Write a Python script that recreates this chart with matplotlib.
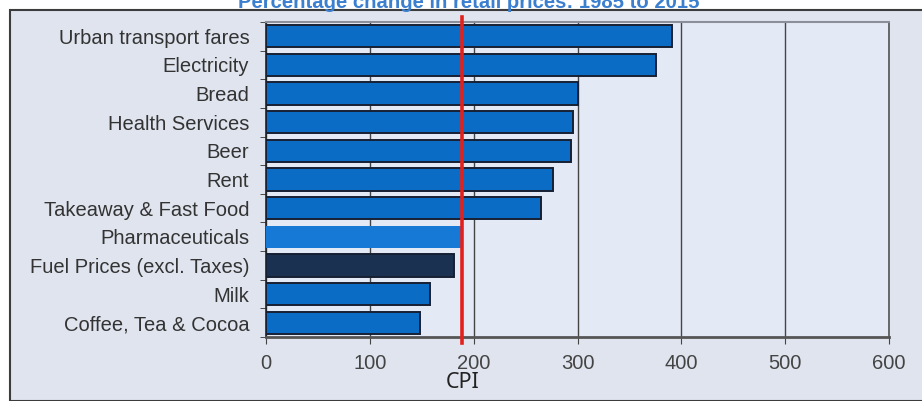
import matplotlib
import matplotlib.pyplot as plt
from matplotlib.patches import Rectangle

matplotlib.rcParams["font.family"] = ["Liberation Sans", "DejaVu Sans"]

categories = [
    "Urban transport fares",
    "Electricity",
    "Bread",
    "Health Services",
    "Beer",
    "Rent",
    "Takeaway & Fast Food",
    "Pharmaceuticals",
    "Fuel Prices (excl. Taxes)",
    "Milk",
    "Coffee, Tea & Cocoa",
]
values = [391, 376, 300, 296, 294, 276, 265, 188, 181, 158, 148]
cpi_value = 189
x_ticks = [0, 100, 200, 300, 400, 500, 600]
title = "Percentage change in retail prices: 1985 to 2015"

bar_colors = ["#0b6cc6"] * len(categories)
bar_colors[7] = "#1679d6"
bar_colors[8] = "#1b3152"
edge_widths = [1.4] * len(categories)
edge_widths[7] = 0

fig = plt.figure(figsize=(9.22, 4.01), dpi=100)
fig.patch.set_facecolor("white")

# outer panel behind the axes
panel = Rectangle((10 / 922, 0.0), 1.0, 1 - 10 / 401, transform=fig.transFigure,
                  facecolor="#dfe4ee", edgecolor="#3c3c3c", linewidth=1.5, zorder=-5)
fig.patches.append(panel)

ax = fig.add_axes([266 / 922, 1 - 337 / 401, (889 - 266) / 922, (337 - 22) / 401])
ax.set_zorder(2)
ax.set_facecolor("#e3e9f5")

pos = list(range(len(categories)))
ax.barh(pos, values, height=0.78, color=bar_colors, edgecolor="#172033",
        linewidth=edge_widths, zorder=3)

ax.axvline(cpi_value, ymin=-0.02, ymax=1.015, color="#e3211c", linewidth=2.6,
           zorder=4, clip_on=False)
ax.text(cpi_value, -0.146, "CPI", transform=ax.get_xaxis_transform(),
        ha="center", va="center", fontsize=15.5, color="#222222",
        family=["Noto Sans", "DejaVu Sans"])

ax.set_xlim(0, 600)
ax.set_ylim(len(categories) - 0.5, -0.5)
ax.set_xticks(x_ticks)
ax.set_yticks(pos)
ax.set_yticklabels(categories)
ax.set_yticks([p + 0.5 for p in pos[:-1]] + [-0.5, len(categories) - 0.5], minor=True)
ax.tick_params(axis="y", which="major", length=0, pad=12, labelsize=14.5, labelcolor="#333333")
ax.tick_params(axis="y", which="minor", length=4, color="#333333")
ax.tick_params(axis="x", length=5, color="#444444", pad=7, labelsize=14.5, labelcolor="#444444")

ax.grid(axis="x", color="#444444", linewidth=1.0, zorder=1)
ax.set_axisbelow(True)

ax.spines["left"].set_color("#222222")
ax.spines["left"].set_linewidth(1.2)
ax.spines["bottom"].set_color("#555555")
ax.spines["bottom"].set_linewidth(2.0)
ax.spines["top"].set_color("#8a8f99")
ax.spines["top"].set_linewidth(1.5)
ax.spines["right"].set_color("#555555")
ax.spines["right"].set_linewidth(1.2)

fig.text(469 / 922, 1 - 8 / 401, title, ha="center", va="baseline",
         fontsize=14.6, fontweight="bold", color="#3b7fd0")

fig.savefig("out.png", dpi=100)
